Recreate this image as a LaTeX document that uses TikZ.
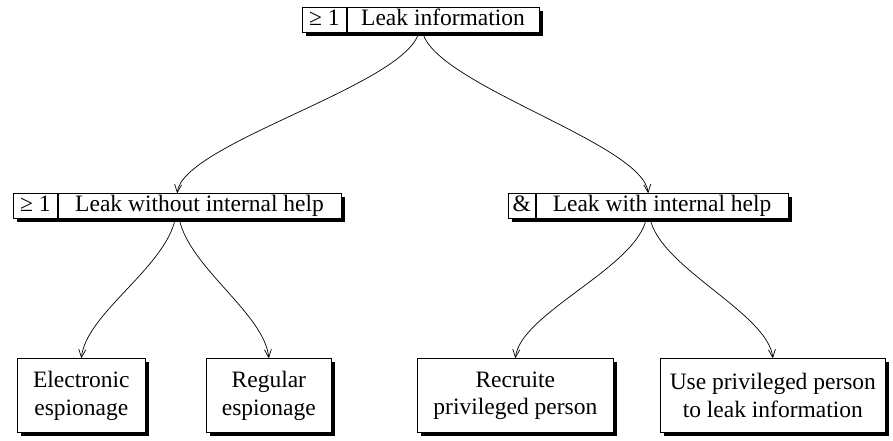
\documentclass[tikz,border=0pt]{standalone}
\usepackage{fontspec}
\setmainfont{Liberation Serif}
\usetikzlibrary{arrows.meta,backgrounds,calc}
\begin{document}
\begin{tikzpicture}[x=1pt,y=1pt,
  cell/.style={draw, fill=white, line width=0.7pt, inner sep=0pt, minimum height=25pt,
    text height=16pt, text depth=5pt, font=\fontsize{23.5}{28}\selectfont, anchor=south west},
  leaf/.style={draw, fill=white, line width=0.7pt, align=center, inner sep=0pt,
    minimum height=74pt, anchor=south west, font=\fontsize{23.5}{27.5}\selectfont},
  link/.style={line width=0.7pt, -{Straight Barb[length=8pt,width=7pt]}},
  shade/.style={fill=black}
]
\useasboundingbox (0,0) rectangle (893,441);

% top node
\node[cell, minimum width=44pt] (tg) at (302,408) {≥ 1};
\node[cell, minimum width=192pt] (tt) at (tg.south east) {Leak information};
% middle left
\node[cell, minimum width=44pt] (lg) at (13,222) {≥ 1};
\node[cell, minimum width=283pt] (lt) at (lg.south east) {Leak without internal help};
% middle right
\node[cell, minimum width=27pt] (rg) at (508,222) {\&};
\node[cell, minimum width=252pt] (rt) at (rg.south east) {Leak with internal help};
% leaves
\node[leaf, minimum width=128pt] (e) at (17,8) {Electronic\\espionage};
\node[leaf, minimum width=125pt] (g) at (206,8) {Regular\\espionage};
\node[leaf, minimum width=196pt] (c) at (417,8) {Recruite\\privileged person};
\node[leaf, minimum width=225pt] (u) at (660,8) {Use privileged person\\to leak information};

\begin{scope}[on background layer]
  \fill[shade] ($(tg.south west)+(3.5,-3.5)$) rectangle ($(tt.north east)+(3.5,-3.5)$);
  \fill[shade] ($(lg.south west)+(3.5,-3.5)$) rectangle ($(lt.north east)+(3.5,-3.5)$);
  \fill[shade] ($(rg.south west)+(3.5,-3.5)$) rectangle ($(rt.north east)+(3.5,-3.5)$);
  \foreach \n in {e,g,c,u}
    \fill[shade] ($(\n.south west)+(3.5,-3.5)$) rectangle ($(\n.north east)+(3.5,-3.5)$);
\end{scope}

% anchor points of the compound boxes
\coordinate (tb) at ($(tg.south west)!0.5!(tt.south east)$);
\coordinate (lb) at ($(lg.south west)!0.5!(lt.south east)$);
\coordinate (ln) at ($(lg.north west)!0.5!(lt.north east)$);
\coordinate (rb) at ($(rg.south west)!0.5!(rt.south east)$);
\coordinate (rn) at ($(rg.north west)!0.5!(rt.north east)$);

\draw[link] ([xshift=-2pt]tb) .. controls +(-106:55) and +(84:50) .. (ln);
\draw[link] ([xshift=2pt]tb) .. controls +(-74:55) and +(96:50) .. (rn);
\draw[link] ([xshift=-2pt]lb) .. controls +(-102:50) and +(84:45) .. (e.north);
\draw[link] ([xshift=2pt]lb) .. controls +(-78:50) and +(96:45) .. (g.north);
\draw[link] ([xshift=-2pt]rb) .. controls +(-102:50) and +(84:45) .. (c.north);
\draw[link] ([xshift=2pt]rb) .. controls +(-78:50) and +(96:45) .. (u.north);
\end{tikzpicture}
\end{document}
